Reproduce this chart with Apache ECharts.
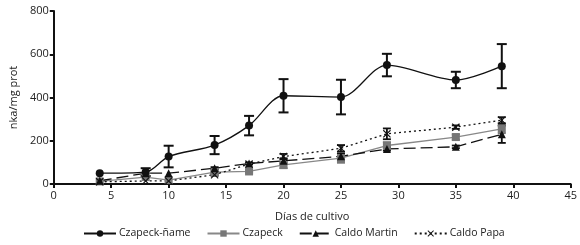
<!DOCTYPE html>
<html>
<head>
<meta charset="utf-8">
<script src="https://cdn.jsdelivr.net/npm/echarts@6/dist/echarts.min.js"></script>
<style>
  html, body { margin: 0; padding: 0; background: #fff; }
  #chart { width: 580px; height: 245px; }
</style>
</head>
<body>
<div id="chart"></div>
<script>
// días de cultivo
const days = [4, 8, 10, 14, 17, 20, 25, 29, 35, 39];

// nka/mg prot por medio
const czapeckName = [50, 55, 127, 180, 270, 408, 402, 550, 481, 545];
const czapeckNameErr = [0, 18, 50, 42, 45, 77, 80, 52, 38, 102];

const czapeck = [12, 32, 18, 55, 58, 88, 120, 178, 217, 255];
const czapeckErr = [0, 0, 0, 8, 6, 15, 22, 15, 12, 20];

const caldoMartin = [15, 50, 50, 73, 95, 107, 128, 162, 172, 230];
const caldoMartinErr = [0, 0, 0, 5, 5, 12, 12, 8, 6, 40];

const caldoPapa = [10, 14, 14, 43, 92, 127, 165, 232, 263, 295];
const caldoPapaErr = [0, 0, 0, 5, 0, 12, 15, 25, 8, 14];

const FONT = "Open Sans";
const CROSS = "path://M1,0L5,4L9,0L10,1L6,5L10,9L9,10L5,6L1,10L0,9L4,5L0,1Z";

const toPairs = (vals) => days.map((d, i) => [d, vals[i]]);
const toBars = (vals, errs) =>
  days.map((d, i) => [d, vals[i] - errs[i], vals[i] + errs[i]]).filter((r, i) => errs[i] > 0);

/**
 * barra de error tipo "I"
 */
const errorSeries = (name, vals, errs, color, capHalf, width) => ({
  name,
  type: "custom",
  data: toBars(vals, errs),
  z: 3,
  renderItem: (params, api) => {
    const x = api.value(0);
    const lo = api.coord([x, api.value(1)]);
    const hi = api.coord([x, api.value(2)]);
    const style = { stroke: color, lineWidth: width };
    return {
      type: "group",
      children: [
        { type: "line", shape: { x1: lo[0], y1: lo[1], x2: hi[0], y2: hi[1] }, style },
        { type: "line", shape: { x1: hi[0] - capHalf, y1: hi[1], x2: hi[0] + capHalf, y2: hi[1] }, style },
        { type: "line", shape: { x1: lo[0] - capHalf, y1: lo[1], x2: lo[0] + capHalf, y2: lo[1] }, style },
      ],
    };
  },
});

const chart = echarts.init(document.getElementById("chart"));

const option = {
  animation: false,
  textStyle: { fontFamily: FONT },
  grid: { left: 49, right: 8, top: 11, bottom: 61 },
  legend: {
    data: ["Czapeck-ñame", "Czapeck", "Caldo Martin", "Caldo Papa"],
    bottom: 1,
    left: 78,
    itemWidth: 32,
    itemHeight: 8,
    itemGap: 16,
    textStyle: { fontFamily: FONT, fontSize: 10.5, color: "#222", padding: [0, 0, 0, -2] },
  },
  xAxis: {
    type: "value",
    min: 0,
    max: 45,
    interval: 5,
    name: "Días de cultivo",
    nameLocation: "middle",
    nameGap: 27,
    nameTextStyle: { fontFamily: FONT, fontSize: 11, color: "#222" },
    axisLine: { lineStyle: { color: "#111", width: 2 } },
    axisTick: { length: 4, lineStyle: { color: "#111", width: 2 } },
    axisLabel: { fontFamily: FONT, fontSize: 11, color: "#222", margin: 6 },
    splitLine: { show: false },
  },
  yAxis: {
    type: "value",
    min: 0,
    max: 800,
    interval: 200,
    name: "nka/mg prot",
    nameLocation: "middle",
    nameGap: 33,
    nameTextStyle: { fontFamily: FONT, fontSize: 11, color: "#222" },
    axisLine: { show: true, lineStyle: { color: "#111", width: 2 } },
    axisTick: { show: true, length: 4, lineStyle: { color: "#111", width: 2 } },
    axisLabel: { fontFamily: FONT, fontSize: 11, color: "#222", margin: 5 },
    splitLine: { show: false },
  },
  series: [
    {
      name: "Czapeck-ñame",
      type: "line",
      data: toPairs(czapeckName),
      smooth: 0.3,
      symbol: "circle",
      symbolSize: 8,
      itemStyle: { color: "#111" },
      lineStyle: { color: "#111", width: 1.3 },
      z: 5,
    },
    {
      name: "Czapeck",
      type: "line",
      data: toPairs(czapeck),
      symbol: "rect",
      symbolSize: 8,
      itemStyle: { color: "#777" },
      lineStyle: { color: "#888", width: 1.3 },
      z: 4,
    },
    {
      name: "Caldo Martin",
      type: "line",
      data: toPairs(caldoMartin),
      symbol: "triangle",
      symbolSize: 8,
      itemStyle: { color: "#111" },
      lineStyle: { color: "#111", width: 1.3, type: [12, 5] },
      z: 4,
    },
    {
      name: "Caldo Papa",
      type: "line",
      data: toPairs(caldoPapa),
      symbol: CROSS,
      symbolSize: 8,
      itemStyle: { color: "#111" },
      lineStyle: { color: "#111", width: 1.3, type: [2, 3] },
      z: 4,
    },
    errorSeries("err-czapeck-name", czapeckName, czapeckNameErr, "#111", 5, 2),
    errorSeries("err-czapeck", czapeck, czapeckErr, "#777", 4, 1.8),
    errorSeries("err-martin", caldoMartin, caldoMartinErr, "#111", 4, 1.8),
    errorSeries("err-papa", caldoPapa, caldoPapaErr, "#111", 4, 1.8),
  ],
};

chart.setOption(option);
</script>
</body>
</html>
